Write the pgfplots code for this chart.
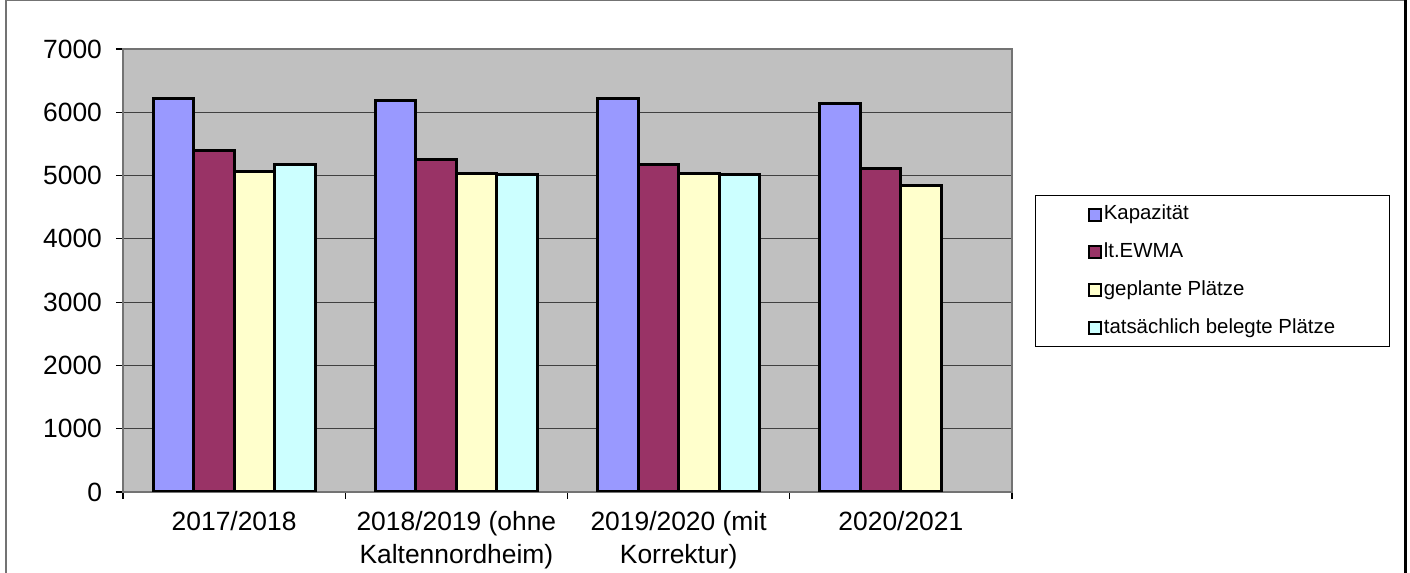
\documentclass[border=0pt]{standalone}
\usepackage{fontspec}
\setmainfont{Liberation Sans}
\usepackage{pgfplots}
\pgfplotsset{compat=1.18}
\definecolor{kap}{HTML}{9999FF}
\definecolor{ewma}{HTML}{993366}
\definecolor{gepl}{HTML}{FFFFCC}
\definecolor{tats}{HTML}{CCFFFF}
\definecolor{bg}{HTML}{C0C0C0}
\begin{document}
\begin{tikzpicture}[x=0.5pt,y=0.5pt]
\useasboundingbox (0,0) rectangle (1410,573);
\draw[black!55, line width=1pt] (5.5,0) -- (5.5,572.5) -- (1405,572.5);
\draw[black, line width=1.5pt] (1405,573) -- (1405,0);
\begin{axis}[
  at={(61.5pt,40.5pt)}, anchor=south west,
  scale only axis, width=444.5pt, height=221.5pt,
  ybar=0pt, bar width=20.25pt,
  xmin=-0.5, xmax=3.5, ymin=0, ymax=7000,
  axis background/.style={fill=bg},
  axis line style={draw=black!55, line width=0.8pt},
  ytick={0,1000,...,7000},
  xtick={-0.5,0.5,1.5,2.5,3.5}, xticklabels={},
  extra x ticks={0,1,2,3},
  extra x tick labels={2017/2018,{2018/2019 (ohne\\Kaltennordheim)},{2019/2020 (mit\\Korrektur)},2020/2021},
  extra x tick style={major tick length=0pt, grid=none},
  xticklabel style={align=center, font=\fontsize{13.2}{16.5}\selectfont, yshift=-6pt},
  yticklabel style={font=\fontsize{13.2}{16.5}\selectfont, xshift=-3.5pt},
  /pgf/number format/assume math mode=true,
  /pgf/number format/1000 sep={},
  tick align=outside, major tick length=3.5pt,
  tick style={black, line width=0.6pt},
  xtick pos=bottom, ytick pos=left,
  ymajorgrids, grid style={black!75, line width=0.5pt},
  legend style={at={(1.0259,0.6704)}, anchor=north west, draw=black, line width=0.5pt,
    minimum width=177pt, inner xsep=0pt, inner ysep=3.8pt,
    font=\fontsize{10.2}{12}\selectfont, row sep=7.45pt,
    nodes={inner xsep=1pt, inner ysep=0.8pt, minimum width=0pt, minimum height=0pt,
      text height=7.6pt, text depth=2.2pt}},
  legend cell align=left,
  legend image code/.code={\draw[#1, draw=black, line width=1pt] (0pt,-3pt) rectangle (6pt,3pt);},
]
\addplot[fill=kap, draw=black, line width=1.5pt] coordinates {(0,6210) (1,6180) (2,6210) (3,6135)};
\addplot[fill=ewma, draw=black, line width=1.5pt] coordinates {(0,5400) (1,5260) (2,5170) (3,5105)};
\addplot[fill=gepl, draw=black, line width=1.5pt] coordinates {(0,5070) (1,5025) (2,5040) (3,4840)};
\addplot[fill=tats, draw=black, line width=1.5pt] coordinates {(0,5180) (1,5010) (2,5010)};
\legend{Kapazität, lt.EWMA, geplante Plätze, tatsächlich belegte Plätze}
\end{axis}
\end{tikzpicture}
\end{document}
